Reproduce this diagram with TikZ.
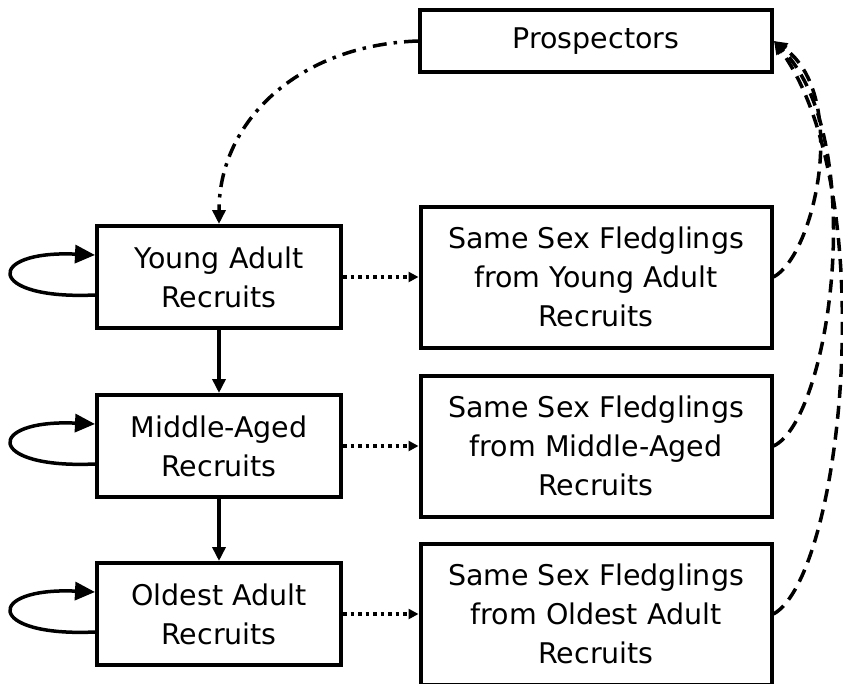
\documentclass[tikz,border=0pt]{standalone}
\usepackage{fontspec}
\setmainfont{DejaVu Sans}
\usetikzlibrary{arrows.meta}

\begin{document}
\begin{tikzpicture}[x=1pt,y=-1pt,
	box/.style={draw,line width=4pt,align=center,inner sep=0pt,font=\fontsize{28.5}{39}\selectfont},
	solidline/.style={line width=3.5pt,-{Triangle[length=14pt,width=13pt]}},
	dotline/.style={line width=3.5pt,dash pattern=on 3.5pt off 4pt,-{Triangle[length=10pt,width=10pt]}},
	dashline/.style={line width=3.5pt,dash pattern=on 13pt off 8pt,-{Triangle[length=13pt,width=12pt]}},
	dashdotline/.style={line width=3.5pt,dash pattern=on 14pt off 7pt on 3.5pt off 7pt,-{Triangle[length=14pt,width=13pt]}}]
	\useasboundingbox (0,0) rectangle (843,683);
	
	\node (prosp) [box,minimum width=352pt,minimum height=62pt] at (596,41) {Prospectors};
	
	\foreach \n/\y/\t in {young/277/Young Adult,middle/446/Middle-Aged,oldest/614/Oldest Adult}{
		\node (\n) [box,minimum width=244pt,minimum height=102pt] at (219,\y) {\t\\Recruits};
		\node (f\n) [box,minimum width=351pt,minimum height=141pt] at (596,\y) {Same Sex Fledglings\\from \t\\Recruits};
	}
	
	\foreach \n in {young,middle,oldest}{
		\draw [line width=3.5pt,-{Triangle[length=20pt,width=18pt]}] ([yshift=-18pt]\n.west) .. controls +(-110,5) and +(-110,-5) .. ([yshift=22pt]\n.west);
		\draw [dotline] (\n) -- (f\n);
	}
	
	\draw [solidline] (young) -- (middle);
	\draw [solidline] (middle) -- (oldest);
	
	\draw [dashdotline] (prosp.west) .. controls (300,45) and (219,120) .. (young.north);
	
	\foreach \n/\a/\b/\c/\d in {fyoung/815/255/850/95,fmiddle/830/420/870/140,foldest/843/575/882/190}
	\draw [dashline] (\n.east) .. controls (\a,\b) and (\c,\d) .. (prosp.east);
\end{tikzpicture}
\end{document}
